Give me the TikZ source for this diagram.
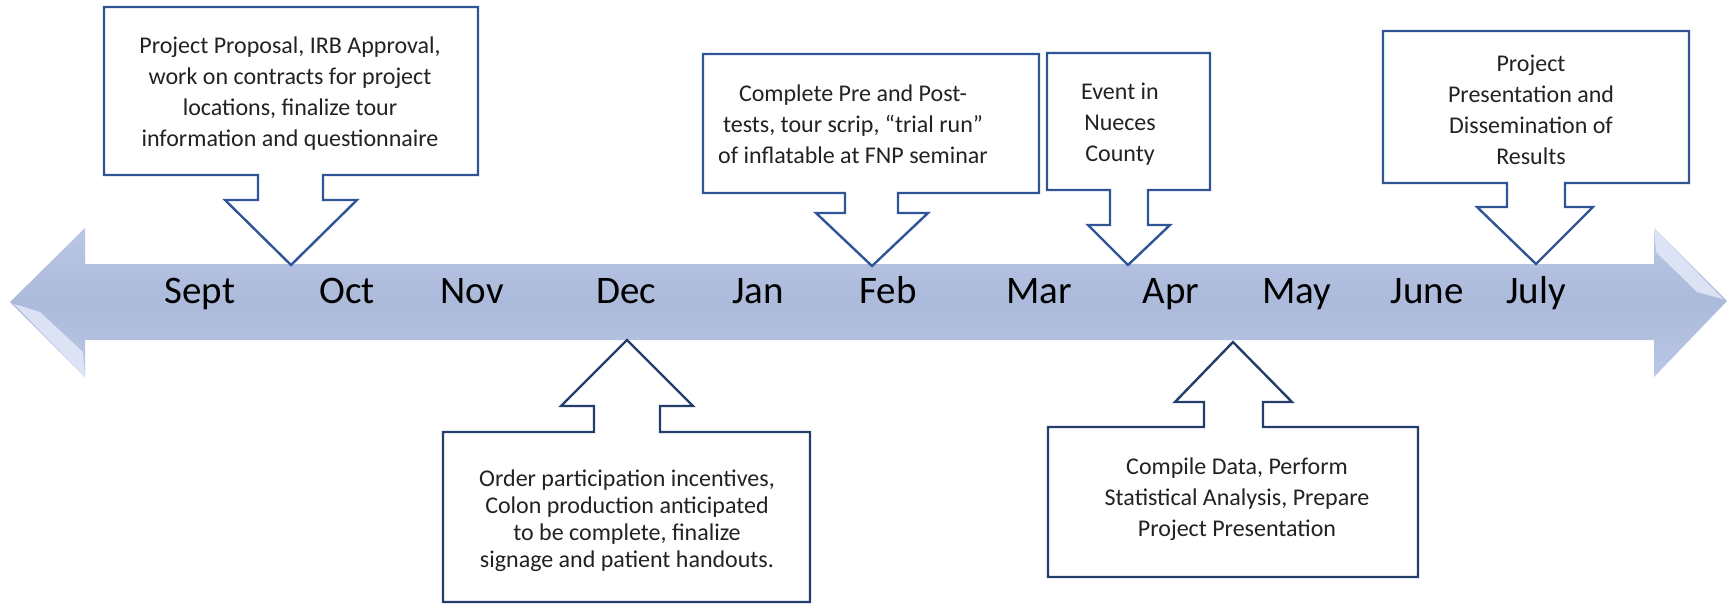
\documentclass[tikz,border=0pt]{standalone}
\usepackage{fontspec}
\setmainfont{Carlito}
\usepackage{tikz}
\usetikzlibrary{positioning}

\definecolor{shaft}{HTML}{ACBADB}
\definecolor{shaftlight}{HTML}{BAC6E5}
\definecolor{bevel}{HTML}{E6ECFA}
\definecolor{topline}{HTML}{2F5597}
\definecolor{botline}{HTML}{243E6C}
\definecolor{notetext}{HTML}{222222}

\begin{document}
\begin{tikzpicture}[
  x=1pt, y=-1pt,
  month/.style={anchor=base, font=\fontsize{39}{47}\selectfont},
  note/.style={align=center, text=notetext, inner sep=0pt, font=\fontsize{24}{31}\selectfont},
  downcall/.style={draw=topline, line width=2.4pt, fill=white, line join=miter},
  upcall/.style={draw=botline, line width=2.4pt, fill=white, line join=miter}
]
\useasboundingbox (0,0) rectangle (1728,603);

% timeline arrow
\shade[top color=shaftlight, bottom color=shaftlight, middle color=shaft]
  (10,302) -- (85,228) -- (85,264) -- (1654,264) -- (1654,228) -- (1727,301)
  -- (1654,377) -- (1654,340) -- (85,340) -- (85,377) -- cycle;
\fill[bevel, opacity=0.8] (14,304) -- (40,312) -- (83,352) -- (85,377) -- cycle;
\fill[bevel, opacity=0.8] (1723,299) -- (1697,292) -- (1656,252) -- (1654,228) -- cycle;

% months
\node[month] (sept) at (200,303) {Sept};
\node[month] (oct) at (347,303) {Oct};
\node[month] (nov) at (472,303) {Nov};
\node[month] (dec) at (626,303) {Dec};
\node[month] (jan) at (758,303) {Jan};
\node[month] (feb) at (888,303) {Feb};
\node[month] (mar) at (1039,303) {Mar};
\node[month] (apr) at (1171,303) {Apr};
\node[month] (may) at (1297,303) {May};
\node[month] (june) at (1427,303) {June};
\node[month] (july) at (1536,303) {July};

% callouts above the line
\draw[downcall] (104,7) -- (478,7) -- (478,175) -- (323,175) -- (323,200) -- (357,200)
  -- (291,265) -- (225,200) -- (258,200) -- (258,175) -- (104,175) -- cycle;
\draw[downcall] (703,54) -- (1039,54) -- (1039,193) -- (898,193) -- (898,213) -- (928,213)
  -- (872,266) -- (816,213) -- (845,213) -- (845,193) -- (703,193) -- cycle;
\draw[downcall] (1047,53) -- (1210,53) -- (1210,190) -- (1148,190) -- (1148,225) -- (1170,225)
  -- (1128,265) -- (1088,225) -- (1110,225) -- (1110,190) -- (1047,190) -- cycle;
\draw[downcall] (1383,31) -- (1689,31) -- (1689,183) -- (1565,183) -- (1565,207) -- (1593,207)
  -- (1536,264) -- (1477,207) -- (1507,207) -- (1507,183) -- (1383,183) -- cycle;

% callouts below the line
\draw[upcall] (627,340) -- (693,406) -- (660,406) -- (660,432) -- (810,432) -- (810,602)
  -- (443,602) -- (443,432) -- (594,432) -- (594,406) -- (561,406) -- cycle;
\draw[upcall] (1233,342) -- (1292,402) -- (1263,402) -- (1263,427) -- (1418,427) -- (1418,577)
  -- (1048,577) -- (1048,427) -- (1204,427) -- (1204,402) -- (1175,402) -- cycle;

% notes
\node[note] (proposal) at (290,94) {Project Proposal, IRB Approval,\\ work on contracts for project\\ locations, finalize tour\\ information and questionnaire};
\node[note] (pretests) at (853,124) {Complete Pre and Post-\\ tests, tour scrip, “trial run”\\ of inflatable at FNP seminar};
\node[note] (nueces) at (1120,124) {Event in\\ Nueces\\ County};
\node[note] (dissem) at (1531,110) {Project\\ Presentation and\\ Dissemination of\\ Results};
\node[note, font=\fontsize{24}{27}\selectfont] (incent) at (627,521) {Order participation incentives,\\ Colon production anticipated\\ to be complete, finalize\\ signage and patient handouts.};
\node[note] (analysis) at (1237,499) {Compile Data, Perform\\ Statistical Analysis, Prepare\\ Project Presentation};
\end{tikzpicture}
\end{document}
